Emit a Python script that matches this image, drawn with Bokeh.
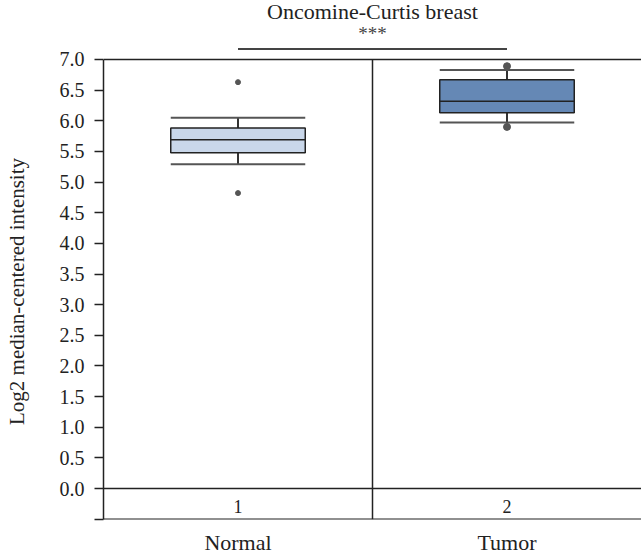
from bokeh.plotting import figure
from bokeh.models import FixedTicker, PrintfTickFormatter, ColumnDataSource, Range1d
from bokeh.core.properties import value
from bokeh.embed import file_html
from bokeh.resources import INLINE

# ---- data ----
categories = ["Normal", "Tumor"]
group_ids = ["1", "2"]
positions = [1, 2]
q1 = [5.48, 6.13]
medians = [5.69, 6.32]
q3 = [5.88, 6.67]
whisker_low = [5.29, 5.97]
whisker_high = [6.05, 6.83]
outlier_normal = [6.63, 4.82]
outlier_tumor = [6.89, 5.90]
y_ticks = [-0.5, 0.0, 0.5, 1.0, 1.5, 2.0, 2.5, 3.0, 3.5, 4.0, 4.5, 5.0, 5.5, 6.0, 6.5, 7.0]
title_text = "Oncomine-Curtis breast"
sig_text = "***"
y_label = "Log2 median-centered intensity"

FONT = "Liberation Serif"
box_fill = ["#c9d7ea", "#6588b5"]
box_w = 0.5
y_min, y_max = -0.5, 7.0
mid_x = (positions[0] + positions[1]) / 2

p = figure(width=641, height=557, x_range=Range1d(0.5, 2.5), y_range=Range1d(-0.505, 7.962),
           min_border_left=103, min_border_right=0, min_border_top=0, min_border_bottom=35,
           toolbar_location=None, output_backend="svg")
p.grid.visible = False
p.outline_line_color = None

ya = p.yaxis[0]
ya.ticker = FixedTicker(ticks=y_ticks)
ya.formatter = PrintfTickFormatter(format="%.1f")
ya.major_label_overrides = {-0.5: ""}
ya.bounds = (y_min, y_max)
ya.minor_tick_line_color = None
ya.major_tick_in = 0
ya.major_tick_out = 9
ya.major_tick_line_color = "#222222"
ya.major_tick_line_width = 1.5
ya.axis_line_color = "#222222"
ya.axis_line_width = 1.5
ya.major_label_text_font = FONT
ya.major_label_text_font_size = "20px"
ya.major_label_text_color = "#222222"
ya.major_label_standoff = 10
# trailing no-break spaces shift the centred label down onto the -0.5..7.0 span
ya.axis_label = y_label + "\u00a0" * 12
ya.axis_label_text_font = FONT
ya.axis_label_text_font_size = "21px"
ya.axis_label_text_font_style = "normal"
ya.axis_label_text_color = "#222222"
ya.axis_label_standoff = 28

xa = p.xaxis[0]
xa.ticker = FixedTicker(ticks=positions)
xa.major_label_overrides = {pos: c for pos, c in zip(positions, categories)}
xa.axis_line_color = None
xa.major_tick_line_color = None
xa.minor_tick_line_color = None
xa.major_label_text_font = FONT
xa.major_label_text_font_size = "22px"
xa.major_label_text_color = "#222222"
xa.major_label_standoff = 4

# frame lines
p.segment(x0=[0.5] * 3, x1=[2.5] * 3, y0=[y_max, 0.0, y_min], y1=[y_max, 0.0, y_min],
          line_color="#222222", line_width=1.5)
p.segment(x0=[mid_x], x1=[mid_x], y0=[y_min], y1=[y_max], line_color="#222222", line_width=1.5)

# title, significance
p.text(x=[mid_x], y=[7.78], text=[title_text], text_font=value(FONT), text_font_size="22px",
       text_align="center", text_baseline="middle", text_color="#222222")
p.text(x=[mid_x], y=[7.42], text=[sig_text], text_font=value(FONT), text_font_size="19px",
       text_align="center", text_baseline="middle", text_color="#444444")
p.segment(x0=[positions[0]], x1=[positions[1]], y0=[7.172], y1=[7.172],
          line_color="#444444", line_width=2)

# group id labels inside the bottom band
p.text(x=positions, y=[-0.3] * len(positions), text=group_ids, text_font=value(FONT),
       text_font_size="18px", text_align="center", text_baseline="middle", text_color="#222222")

src = ColumnDataSource(dict(
    x=positions, q1=q1, q3=q3, med=medians, lo=whisker_low, hi=whisker_high,
    left=[x - box_w / 2 for x in positions], right=[x + box_w / 2 for x in positions],
    fill=box_fill))

# whiskers
p.segment(x0="x", x1="x", y0="q3", y1="hi", source=src, line_color="#333333", line_width=2)
p.segment(x0="x", x1="x", y0="lo", y1="q1", source=src, line_color="#333333", line_width=2)
p.segment(x0="left", x1="right", y0="hi", y1="hi", source=src, line_color="#555555", line_width=2)
p.segment(x0="left", x1="right", y0="lo", y1="lo", source=src, line_color="#555555", line_width=2)
# boxes
p.quad(left="left", right="right", bottom="q1", top="q3", source=src,
       fill_color="fill", line_color="#222222", line_width=1.5)
p.segment(x0="left", x1="right", y0="med", y1="med", source=src, line_color="#222222", line_width=1.5)
# outliers
p.scatter(x=[positions[0]] * len(outlier_normal), y=outlier_normal, size=5,
          fill_color="#555555", line_color="#555555")
p.scatter(x=[positions[1]] * len(outlier_tumor), y=outlier_tumor, size=7,
          fill_color="#555555", line_color="#555555")

open("out.html", "w").write(file_html(p, INLINE))
